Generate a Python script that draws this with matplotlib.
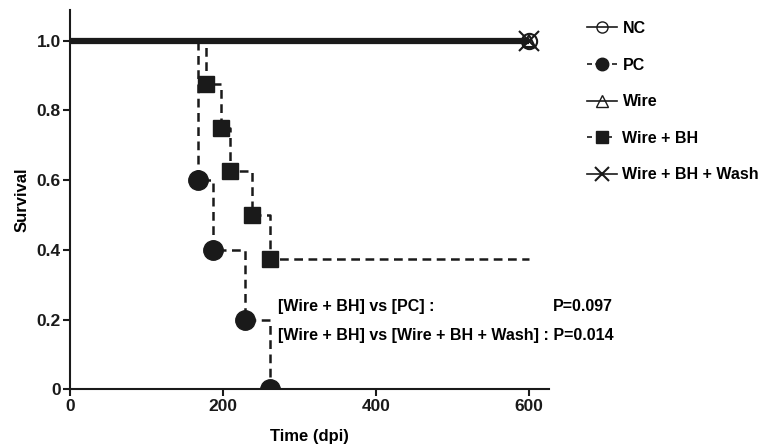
import matplotlib
matplotlib.use('Agg')
import matplotlib.pyplot as plt
from matplotlib.lines import Line2D

plt.rcParams['font.family'] = ['Liberation Sans', 'DejaVu Sans']
plt.rcParams['font.weight'] = 'bold'

# survival data (time in dpi, survival fraction)
pc_t = [0, 167, 187, 228, 261, 600]
pc_s = [1.0, 0.6, 0.4, 0.2, 0.0, 0.0]
wbh_t = [0, 177, 197, 209, 237, 261, 600]
wbh_s = [1.0, 0.875, 0.75, 0.625, 0.5, 0.375, 0.375]
flat_t = [0, 600]
flat_s = [1.0, 1.0]

labels = ['NC', 'PC', 'Wire', 'Wire + BH', 'Wire + BH + Wash']
stats_lbl = ['[Wire + BH] vs [PC] :', '[Wire + BH] vs [Wire + BH + Wash] :']
stats_p = ['P=0.097', 'P=0.014']

fig = plt.figure(figsize=(7.67, 4.47), dpi=100)
ax = fig.add_axes([0.0919, 0.129, 0.6239, 0.8486])

k = '#1a1a1a'
# flat groups (NC, Wire, Wire+BH+Wash) all stay at 1.0
ax.plot(flat_t, flat_s, color=k, lw=4.5, solid_capstyle='butt', zorder=3)
ax.plot(flat_t[-1:], flat_s[-1:], 'o', mfc='none', mec=k, ms=11, mew=1.5, zorder=4)
ax.plot(flat_t[-1:], flat_s[-1:], '^', mfc='none', mec=k, ms=9, mew=1.5, zorder=4)
ax.plot(flat_t[-1:], flat_s[-1:], 'x', color=k, ms=15, mew=1.5, zorder=4)

ax.step(pc_t, pc_s, where='post', color=k, lw=1.8, ls=(0, (3.5, 2.2)), zorder=2)
ax.plot(pc_t[1:-1], pc_s[1:-1], 'o', color=k, ms=14, zorder=4)
ax.step(wbh_t, wbh_s, where='post', color=k, lw=1.8, ls=(0, (3.5, 2.2)), zorder=2)
ax.plot(wbh_t[1:-1], wbh_s[1:-1], 's', color=k, ms=12, zorder=4)

ax.set_xlim(0, 626)
ax.set_ylim(0, 1.088)
ax.set_xticks([0, 200, 400, 600])
ax.set_yticks([0, 0.2, 0.4, 0.6, 0.8, 1.0])
ax.set_yticklabels(['0', '0.2', '0.4', '0.6', '0.8', '1.0'])
for s in ['top', 'right']:
    ax.spines[s].set_visible(False)
for s in ['left', 'bottom']:
    ax.spines[s].set_linewidth(1.5)
    ax.spines[s].set_color(k)
ax.tick_params(direction='out', length=5, width=1.5, labelsize=12.5, colors=k, pad=2)
ax.set_xlabel('Time (dpi)', fontsize=12, fontweight='bold', labelpad=11)
ax.set_ylabel('Survival', fontsize=12, fontweight='bold', labelpad=5)

ax.text(271, 0.237, stats_lbl[0], fontsize=11.5, fontweight='bold', va='center', ha='left')
ax.text(709, 0.237, stats_p[0], fontsize=11.5, fontweight='bold', va='center', ha='right')
ax.text(271, 0.155, stats_lbl[1] + ' ' + stats_p[1], fontsize=11.5, fontweight='bold',
        va='center', ha='left')

handles = [
    Line2D([], [], color=k, lw=1.2, marker='o', mfc='none', mec=k, ms=8),
    Line2D([], [], color=k, lw=1.2, ls=(0, (3, 2)), marker='o', mfc=k, mec=k, ms=9),
    Line2D([], [], color=k, lw=1.2, marker='^', mfc='none', mec=k, ms=8),
    Line2D([], [], color=k, lw=1.2, ls=(0, (3, 3)), marker='s', mfc=k, mec=k, ms=8),
    Line2D([], [], color=k, lw=1.2, marker='x', mfc=k, mec=k, ms=10, mew=1.5),
]
leg = fig.legend(handles, labels, loc='upper left', bbox_to_anchor=(0.746, 0.985),
                 frameon=False, fontsize=11.5, handlelength=1.9, handletextpad=0.35,
                 labelspacing=1.35)
for t in leg.get_texts():
    t.set_fontweight('bold')

fig.savefig('out.png', dpi=100)
